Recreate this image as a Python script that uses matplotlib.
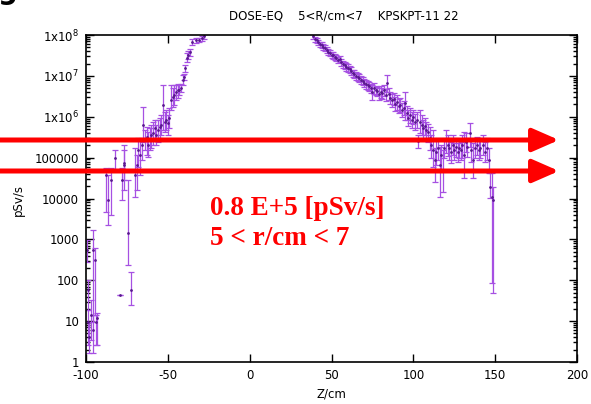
import numpy as np
import matplotlib
matplotlib.use("Agg")
import matplotlib.pyplot as plt
from matplotlib.ticker import FixedLocator, LogLocator, NullFormatter, NullLocator

plt.rcParams["axes.unicode_minus"] = False

# -------------------- Data --------------------

z_cm = [
    -99.5, -99, -98.5, -98, -97, -96, -95.5, -94.5, -94, -93,
    -87.5, -86.5, -84.7, -82.5, -79.5, -78, -77, -76.5, -74.6, -72.5,
    -70, -69, -68, -67, -66, -65.2, -64, -63, -62, -61,
    -60, -59, -58, -57, -56, -55, -54, -53, -52, -51,
    -50, -49, -48, -47, -46, -45, -44, -43, -42, -41,
    -40, -39.5, -38.5, -37.5, -36.5, -35, -33, -31, -29, -28,
    -26, -20, -10, 0, 10, 20, 30, 37,
    39, 40, 41, 42, 43, 44, 45, 46, 47, 48,
    49, 50, 51, 52, 53, 54, 55, 56, 57, 58,
    59, 60, 61, 62, 63, 64, 65, 66, 67, 68,
    69, 70, 71, 72, 73, 74, 75, 76, 77, 78,
    79, 80, 81, 82, 83, 84, 85, 86, 87, 88,
    89, 90, 91, 92, 93, 94, 95, 96, 97, 98,
    99, 100, 101, 102, 102.8, 104, 105, 106, 107, 108,
    109, 110, 111, 112, 113, 114, 115, 116, 117, 118,
    119, 120, 121, 122, 123, 124, 125, 126, 127, 128,
    129, 130, 131, 132, 133, 134.6, 135.5, 136.4, 137.5, 139,
    140, 141, 142.5, 143.5, 145, 146, 147, 148, 148.5,
]

dose = [
    550, 58, 9.5, 4.1, 14, 550, 6.1, 310, 9.5, 12,
    3.8e4, 9.2e3, 2.8e4, 9.8e4, 44, 2.8e4, 6.6e4, 7.4e4, 1.4e3, 58,
    3.8e4, 6.6e4, 1.54e5, 1.16e5, 2.0e5, 6.3e5, 2.7e5, 3.2e5, 2.0e5, 2.7e5,
    3.6e5, 4.0e5, 5.3e5, 3.6e5, 4.7e5, 5.6e5, 6.3e5, 1.94e6, 7.4e5, 8.3e5,
    7.0e5, 9.3e5, 2.6e6, 3.0e6, 3.4e6, 4.0e6, 4.5e6, 4.5e6, 5.0e6, 7.9e6,
    9.4e6, 1.56e7, 2.7e7, 3.2e7, 3.8e7, 6.7e7, 7.5e7, 7.5e7, 8.4e7, 9.5e7,
    1.3e8, 3.0e8, 6.0e8, 9.0e8, 1.0e9, 8.0e8, 4.0e8, 1.2e8,
    9.5e7, 8.0e7, 7.5e7, 6.7e7, 6.0e7, 5.7e7, 5.1e7, 4.8e7, 4.3e7, 3.8e7,
    3.6e7, 3.2e7, 3.2e7, 2.9e7, 2.7e7, 2.4e7, 2.6e7, 2.2e7, 1.95e7, 1.85e7,
    1.65e7, 1.56e7, 1.47e7, 1.32e7, 1.17e7, 1.11e7, 9.9e6, 9.4e6, 8.9e6, 7.9e6,
    7.5e6, 6.7e6, 6.3e6, 6.0e6, 5.7e6, 5.0e6, 4.0e6, 5.0e6, 4.5e6, 4.3e6,
    3.6e6, 4.0e6, 3.8e6, 4.5e6, 3.4e6, 6.7e6, 3.6e6, 2.9e6, 2.6e6, 2.7e6,
    2.05e6, 2.3e6, 1.83e6, 1.94e6, 1.46e6, 1.64e6, 2.2e6, 1.24e6, 9.3e5, 1.1e6,
    8.3e5, 9.9e5, 7.4e5, 8.3e5, 2.55e5, 7.4e5, 6.3e5, 5.3e5, 5.9e5, 4.7e5,
    4.2e5, 3.0e5, 2.0e5, 1.54e5, 8.7e4, 1.37e5, 1.7e5, 6.6e4, 1.16e5, 5.0e4,
    1.7e5, 2.7e5, 2.0e5, 1.7e5, 1.37e5, 2.0e5, 1.54e5, 1.8e5, 1.37e5, 1.7e5,
    1.54e5, 2.0e5, 1.16e5, 2.4e5, 1.8e5, 4.0e5, 1.54e5, 8.7e4, 1.7e5, 2.0e5,
    1.54e5, 1.7e5, 2.0e5, 1.37e5, 1.7e5, 8.7e4, 1.9e4, 1.09e4, 9.2e3,
]

dose_lo = [
    280, 19, 2.6, 1.66, 3.5, 9.5, 1.66, 14, 2.6, 2.6,
    4.7e3, 2.2e3, 3.9e3, 5.0e4, 44, 9.2e3, 1.6e4, 2.8e4, 236, 25,
    1.09e4, 1.6e4, 5.9e4, 3.8e4, 8.7e4, 2.4e5, 1.54e5, 1.16e5, 1.04e5, 1.54e5,
    1.7e5, 2.0e5, 2.7e5, 2.0e5, 2.4e5, 3.0e5, 3.6e5, 4.7e5, 4.2e5, 4.7e5,
    3.6e5, 5.3e5, 1.46e6, 1.73e6, 1.94e6, 2.6e6, 2.9e6, 3.4e6, 4.0e6, 6.0e6,
    7.9e6, 1.24e7, 2.2e7, 2.6e7, 3.1e7, 5.7e7, 6.4e7, 6.7e7, 7.1e7, 8.0e7,
    1.2e8, 2.7e8, 5.4e8, 8.1e8, 9.0e8, 7.2e8, 3.6e8, 1.1e8,
    8.0e7, 6.7e7, 6.4e7, 5.7e7, 5.1e7, 4.8e7, 4.3e7, 4.1e7, 3.6e7, 3.2e7,
    3.1e7, 2.7e7, 2.6e7, 2.4e7, 2.3e7, 2.1e7, 2.2e7, 1.75e7, 1.56e7, 1.47e7,
    1.32e7, 1.24e7, 1.17e7, 1.05e7, 9.4e6, 8.9e6, 7.9e6, 7.5e6, 7.1e6, 6.3e6,
    6.0e6, 5.3e6, 4.8e6, 4.5e6, 4.3e6, 3.8e6, 2.6e6, 3.6e6, 3.4e6, 3.2e6,
    2.6e6, 2.9e6, 2.7e6, 3.2e6, 2.4e6, 4.0e6, 2.6e6, 2.05e6, 1.73e6, 1.94e6,
    1.38e6, 1.46e6, 1.24e6, 1.31e6, 9.9e5, 1.1e6, 8.3e5, 8.3e5, 5.9e5, 7.0e5,
    5.3e5, 6.6e5, 4.7e5, 5.3e5, 1.7e5, 4.0e5, 3.6e5, 3.0e5, 3.6e5, 2.7e5,
    2.4e5, 1.54e5, 9.8e4, 5.9e4, 2.5e4, 6.6e4, 8.7e4, 1.09e4, 5.0e4, 1.44e4,
    9.8e4, 1.3e5, 1.1e5, 8.7e4, 7.4e4, 1.16e5, 8.7e4, 1.04e5, 7.8e4, 9.8e4,
    8.7e4, 9.8e4, 3.2e4, 1.37e5, 1.04e5, 1.8e5, 7.8e4, 3.2e4, 9.8e4, 1.16e5,
    8.7e4, 9.8e4, 1.16e5, 7.8e4, 8.7e4, 4.2e4, 1.03e4, 86, 49,
]

dose_hi = [
    970, 101, 19, 9.5, 33, 1.7e3, 14, 620, 14, 16,
    5.6e4, 3.8e4, 5.6e4, 1.54e5, 44, 5.6e4, 2.0e5, 1.54e5, 2.8e4, 160,
    1.7e5, 1.16e5, 3.0e5, 2.7e5, 3.0e5, 1.73e6, 4.7e5, 5.6e5, 4.2e5, 5.3e5,
    6.3e5, 7.4e5, 8.3e5, 6.3e5, 8.3e5, 9.3e5, 1.1e6, 6.0e6, 1.31e6, 1.46e6,
    1.1e6, 1.64e6, 6.0e6, 5.0e6, 6.0e6, 6.0e6, 6.3e6, 6.0e6, 6.3e6, 1.05e7,
    1.11e7, 1.85e7, 3.6e7, 4.1e7, 4.5e7, 8.0e7, 8.4e7, 8.4e7, 9.5e7, 1.06e8,
    1.4e8, 3.3e8, 6.6e8, 9.9e8, 1.1e9, 8.8e8, 4.4e8, 1.3e8,
    1.06e8, 8.9e7, 8.4e7, 7.5e7, 6.7e7, 6.7e7, 6.0e7, 5.7e7, 5.1e7, 4.5e7,
    4.3e7, 3.8e7, 3.8e7, 3.4e7, 3.2e7, 2.9e7, 3.1e7, 2.6e7, 2.3e7, 2.2e7,
    2.1e7, 1.95e7, 1.75e7, 1.65e7, 1.39e7, 1.39e7, 1.24e7, 1.17e7, 1.11e7, 9.9e6,
    9.4e6, 8.4e6, 7.9e6, 7.5e6, 7.1e6, 6.3e6, 6.0e6, 6.7e6, 5.7e6, 5.3e6,
    5.0e6, 5.7e6, 5.0e6, 6.0e6, 4.8e6, 1.05e7, 5.0e6, 4.0e6, 3.6e6, 3.8e6,
    3.0e6, 3.4e6, 2.7e6, 2.9e6, 2.2e6, 2.4e6, 4.0e6, 1.83e6, 1.46e6, 1.64e6,
    1.31e6, 1.46e6, 1.17e6, 1.31e6, 3.6e5, 1.46e6, 1.1e6, 8.3e5, 9.3e5, 7.4e5,
    6.6e5, 5.6e5, 3.6e5, 4.7e5, 1.7e5, 2.7e5, 3.0e5, 1.8e5, 2.0e5, 1.54e5,
    3.0e5, 4.7e5, 3.6e5, 3.0e5, 2.4e5, 3.6e5, 2.3e5, 3.0e5, 2.3e5, 2.7e5,
    2.4e5, 3.6e5, 4.2e5, 4.0e5, 3.0e5, 7.0e5, 2.7e5, 2.3e5, 2.7e5, 3.2e5,
    2.7e5, 3.0e5, 3.6e5, 2.4e5, 3.0e5, 1.7e5, 4.2e4, 4.2e4, 1.9e4,
]

y_tick_values = [1, 10, 100, 1000, 1e4, 1e5, 1e6, 1e7, 1e8]
y_tick_labels = ["1", "10", "100", "1000", "10000", "100000",
                 r"1x10$^{6}$", r"1x10$^{7}$", r"1x10$^{8}$"]
x_tick_values = [-100, -50, 0, 50, 100, 150, 200]

arrow_levels_px = [140, 171]  # figure pixel rows of the red overlay arrows

# -------------------- Figure --------------------

W, H = 591, 404
fig = plt.figure(figsize=(W / 100, H / 100), dpi=100)
ax = fig.add_axes([86 / W, 1 - 362 / H, (577 - 86) / W, (362 - 35) / H])

z = np.array(z_cm)
d = np.array(dose)
err = [d - np.array(dose_lo), np.array(dose_hi) - d]

ax.errorbar(z, d, yerr=err, fmt=".", color="#a650e2", ecolor="#a650e2",
            markersize=2, markerfacecolor="#5a1890", markeredgecolor="#5a1890",
            elinewidth=0.9, capsize=2.5, capthick=0.9)

ax.set_yscale("log")
ax.set_xlim(-100, 200)
ax.set_ylim(1, 1e8)

ax.yaxis.set_major_locator(FixedLocator(y_tick_values))
ax.set_yticklabels(y_tick_labels)
ax.yaxis.set_minor_locator(LogLocator(base=10, subs=np.arange(2, 10)))
ax.yaxis.set_minor_formatter(NullFormatter())
ax.set_xticks(x_tick_values)
ax.xaxis.set_minor_locator(NullLocator())

ax.tick_params(which="both", direction="in", top=True, right=True,
               labelsize=8.5, colors="black", width=1)
ax.tick_params(which="major", length=6, pad=5)
ax.tick_params(which="minor", length=3)
for sp in ax.spines.values():
    sp.set_linewidth(1.2)

ax.set_xlabel("Z/cm", fontsize=8.5, labelpad=4)
fig.text(18 / W, 1 - 200 / H, "pSv/s", rotation=90, fontsize=8.5,
         ha="center", va="center")
fig.text(344 / W, 1 - 16 / H, "DOSE-EQ    5<R/cm<7    KPSKPT-11 22",
         fontsize=8.5, ha="center", va="center")

# cut-off glyph at the top-left corner of the source picture
fig.text(-2 / W, 1.0 + 1 / H, "g", fontsize=20, fontweight="bold",
         ha="left", va="baseline")

# red overlay arrows
for ypx in arrow_levels_px:
    ax.annotate("", xy=(559, H - ypx), xytext=(0, H - ypx),
                xycoords="figure pixels", textcoords="figure pixels",
                annotation_clip=False,
                arrowprops=dict(arrowstyle="-|>,head_length=1.6,head_width=0.7",
                                mutation_scale=10, color="#ff0000", lw=3.6,
                                shrinkA=0, shrinkB=0))

fig.text(210 / W, 1 - 215 / H, "0.8 E+5 [pSv/s]", fontsize=19.5,
         fontweight="bold", family="Liberation Serif", color="#ff0000",
         ha="left", va="baseline")
fig.text(210 / W, 1 - 245 / H, "5 < r/cm < 7", fontsize=19.5,
         fontweight="bold", family="Liberation Serif", color="#ff0000",
         ha="left", va="baseline")

fig.savefig("out.png", dpi=100)
